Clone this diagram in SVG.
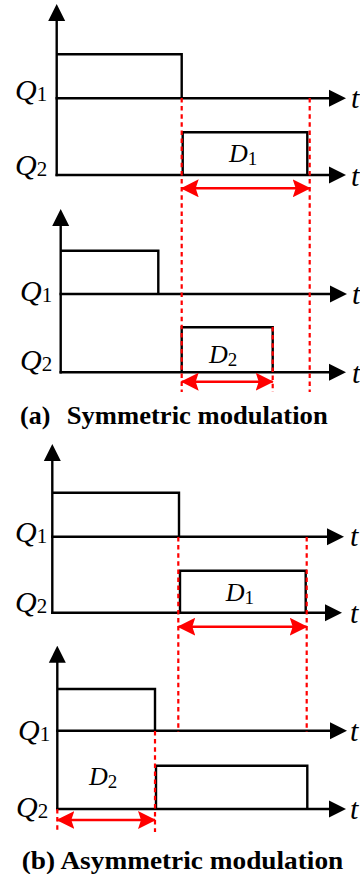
<svg xmlns="http://www.w3.org/2000/svg" width="360" height="874" viewBox="0 0 360 874">
<style>
.ax{stroke:#000;stroke-width:2.4;fill:none;marker-end:url(#ah)}
.wv{stroke:#000;stroke-width:2.4;fill:none;stroke-linejoin:miter}
.dl{stroke:#ff0000;stroke-width:2.2;stroke-dasharray:4.5 3.6;fill:none}
.ra{stroke:#ff0000;stroke-width:2.6;fill:none;marker-start:url(#rh);marker-end:url(#rh)}
.lb{font-family:"Liberation Serif","Times New Roman",serif;font-style:italic;font-size:30px;fill:#000}
.sb{font-style:normal;font-size:21px}
.dd{font-family:"Liberation Serif","Times New Roman",serif;font-style:italic;font-size:26px;fill:#000}
.ds{font-style:normal;font-size:19px}
.cap{font-family:"Liberation Serif","Times New Roman",serif;font-weight:bold;font-size:26px;fill:#000}
</style>
<defs>
<marker id="ah" viewBox="0 -9 17 18" markerWidth="17" markerHeight="18" refX="1" refY="0" orient="auto" markerUnits="userSpaceOnUse">
<path d="M0,-8.5 L17,0 L0,8.5 z" fill="#000"/>
</marker>
<marker id="rh" viewBox="0 -9 18 18" markerWidth="18" markerHeight="18" refX="17" refY="0" orient="auto-start-reverse" markerUnits="userSpaceOnUse">
<path d="M0,-9 L18,0 L0,9 L3,0 z" fill="#ff0000"/>
</marker>
</defs>

<g id="panel-a1">
<line class="ax" x1="56.7" y1="176.2" x2="56.7" y2="20"/>
<line class="ax" x1="55.5" y1="98.3" x2="330" y2="98.3"/>
<line class="ax" x1="55.5" y1="175" x2="330" y2="175"/>
<polyline class="wv" points="56.7,54.3 181.7,54.3 181.7,98.3"/>
<polyline class="wv" points="182.7,175 182.7,132.3 307.3,132.3 307.3,175"/>
<text class="lb" x="15" y="100">Q<tspan class="sb" dy="1">1</tspan></text>
<text class="lb" x="15" y="175">Q<tspan class="sb" dy="1">2</tspan></text>
<text class="lb" x="351" y="108">t</text>
<text class="lb" x="351" y="186">t</text>
<text class="dd" x="229" y="162">D<tspan class="ds" dy="3">1</tspan></text>
</g>

<g id="panel-a2">
<line class="ax" x1="60.7" y1="373.5" x2="60.7" y2="225"/>
<line class="ax" x1="59.5" y1="294" x2="331" y2="294"/>
<line class="ax" x1="59.5" y1="372.3" x2="330" y2="372.3"/>
<polyline class="wv" points="60.7,250.7 158.3,250.7 158.3,294"/>
<polyline class="wv" points="181.7,372.3 181.7,327.3 272.7,327.3 272.7,372.3"/>
<text class="lb" x="20" y="301">Q<tspan class="sb" dy="1">1</tspan></text>
<text class="lb" x="20" y="370">Q<tspan class="sb" dy="1">2</tspan></text>
<text class="lb" x="352" y="304">t</text>
<text class="lb" x="352" y="383">t</text>
<text class="dd" x="209" y="363">D<tspan class="ds" dy="3">2</tspan></text>
</g>

<g id="caption-a">
<text class="cap" x="20" y="424">(a)</text>
<text class="cap" x="66.7" y="424" textLength="261" lengthAdjust="spacingAndGlyphs">Symmetric modulation</text>
</g>

<g id="panel-b1">
<line class="ax" x1="52.3" y1="613.9" x2="52.3" y2="460"/>
<line class="ax" x1="51.1" y1="536.7" x2="328" y2="536.7"/>
<line class="ax" x1="51.1" y1="612.7" x2="326" y2="612.7"/>
<polyline class="wv" points="52.3,492.7 179,492.7 179,536.7"/>
<polyline class="wv" points="180,612.7 180,570.7 305.7,570.7 305.7,612.7"/>
<text class="lb" x="15" y="541.5">Q<tspan class="sb" dy="1">1</tspan></text>
<text class="lb" x="15" y="611.5">Q<tspan class="sb" dy="1">2</tspan></text>
<text class="lb" x="350" y="546">t</text>
<text class="lb" x="350" y="623">t</text>
<text class="dd" x="225.7" y="600.5">D<tspan class="ds" dy="3">1</tspan></text>
</g>

<g id="panel-b2">
<line class="ax" x1="57.3" y1="810.2" x2="57.3" y2="661.7"/>
<line class="ax" x1="56.1" y1="730.7" x2="331" y2="730.7"/>
<line class="ax" x1="56.1" y1="809" x2="330" y2="809"/>
<polyline class="wv" points="57.3,689 155,689 155,730.7"/>
<polyline class="wv" points="156,809 156,765.7 307.3,765.7 307.3,809"/>
<text class="lb" x="18" y="740">Q<tspan class="sb" dy="1">1</tspan></text>
<text class="lb" x="16" y="816.5">Q<tspan class="sb" dy="1">2</tspan></text>
<text class="lb" x="350" y="741">t</text>
<text class="lb" x="350" y="819">t</text>
<text class="dd" x="89" y="785">D<tspan class="ds" dy="3">2</tspan></text>
</g>

<g id="caption-b">
<text class="cap" x="21.7" y="869" textLength="321.6" lengthAdjust="spacingAndGlyphs">(b) Asymmetric modulation</text>
</g>

<g id="connectors">
<line class="dl" x1="181.7" y1="98" x2="181.7" y2="392"/>
<line class="dl" x1="309.7" y1="98" x2="309.7" y2="392"/>
<line class="dl" x1="272.7" y1="327" x2="272.7" y2="392"/>
<line class="dl" x1="178.3" y1="537" x2="178.3" y2="732"/>
<line class="dl" x1="306.7" y1="537" x2="306.7" y2="732"/>
<line class="dl" x1="155" y1="731" x2="155" y2="832"/>
<line class="dl" x1="57.3" y1="809" x2="57.3" y2="832"/>
<line class="ra" x1="181.7" y1="188.3" x2="309.7" y2="188.3"/>
<line class="ra" x1="181.7" y1="381.7" x2="272.7" y2="381.7"/>
<line class="ra" x1="178.3" y1="626.7" x2="306.7" y2="626.7"/>
<line class="ra" x1="57.3" y1="820" x2="155" y2="820"/>
</g>
</svg>
